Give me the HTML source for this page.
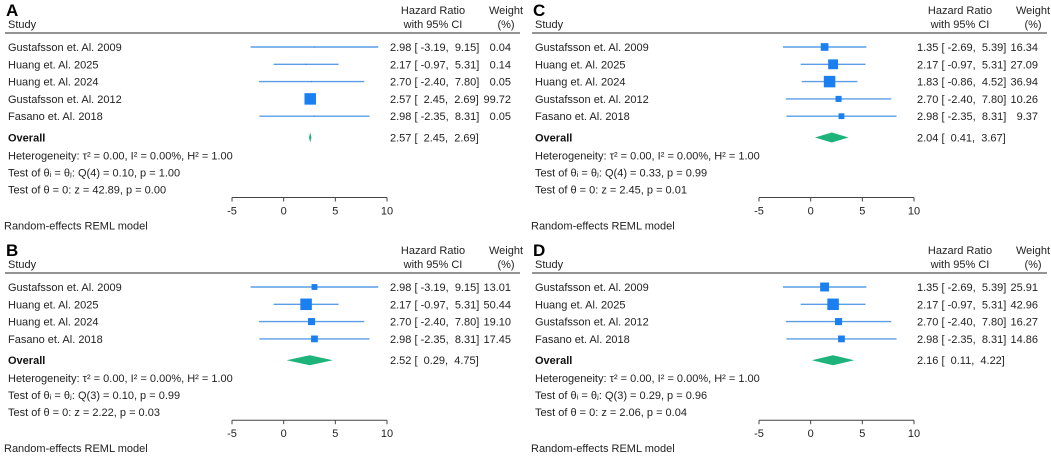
<!DOCTYPE html>
<html><head><meta charset="utf-8"><style>
body{margin:0;background:#fff;}
svg{display:block;font-family:"Liberation Sans",Arial,sans-serif;}
text{white-space:pre;}
</style></head><body>
<svg id="chart" width="1051" height="458" viewBox="0 0 1051 458"></svg>
<script>
// Panel A
const studiesA=["Gustafsson et. Al. 2009","Huang et. Al. 2025","Huang et. Al. 2024","Gustafsson et. Al. 2012","Fasano et. Al. 2018"];
const estA=[2.98,2.17,2.70,2.57,2.98];
const loA=[-3.19,-0.97,-2.40,2.45,-2.35];
const hiA=[9.15,5.31,7.80,2.69,8.31];
const wA=[0.04,0.14,0.05,99.72,0.05];
const overallA=[2.57,2.45,2.69];
const statsA=["Q(4) = 0.10, p = 1.00","z = 42.89, p = 0.00"];
// Panel B
const studiesB=["Gustafsson et. Al. 2009","Huang et. Al. 2025","Huang et. Al. 2024","Fasano et. Al. 2018"];
const estB=[2.98,2.17,2.70,2.98];
const loB=[-3.19,-0.97,-2.40,-2.35];
const hiB=[9.15,5.31,7.80,8.31];
const wB=[13.01,50.44,19.10,17.45];
const overallB=[2.52,0.29,4.75];
const statsB=["Q(3) = 0.10, p = 0.99","z = 2.22, p = 0.03"];
// Panel C
const studiesC=["Gustafsson et. Al. 2009","Huang et. Al. 2025","Huang et. Al. 2024","Gustafsson et. Al. 2012","Fasano et. Al. 2018"];
const estC=[1.35,2.17,1.83,2.70,2.98];
const loC=[-2.69,-0.97,-0.86,-2.40,-2.35];
const hiC=[5.39,5.31,4.52,7.80,8.31];
const wC=[16.34,27.09,36.94,10.26,9.37];
const overallC=[2.04,0.41,3.67];
const statsC=["Q(4) = 0.33, p = 0.99","z = 2.45, p = 0.01"];
// Panel D
const studiesD=["Gustafsson et. Al. 2009","Huang et. Al. 2025","Gustafsson et. Al. 2012","Fasano et. Al. 2018"];
const estD=[1.35,2.17,2.70,2.98];
const loD=[-2.69,-0.97,-2.40,-2.35];
const hiD=[5.39,5.31,7.80,8.31];
const wD=[25.91,42.96,16.27,14.86];
const overallD=[2.16,0.11,4.22];
const statsD=["Q(3) = 0.29, p = 0.96","z = 2.06, p = 0.04"];
const ticks=[-5,0,5,10];

const NS="http://www.w3.org/2000/svg";
const svg=document.getElementById('chart');
function mk(tag,attrs,parent,text){const e=document.createElementNS(NS,tag);for(const k in attrs)e.setAttribute(k,attrs[k]);if(text!==undefined)e.textContent=text;parent.appendChild(e);return e;}
function f2(v){return v.toFixed(2);}
function pad(s){return (s.length<5?"  ":" ")+s;}
function ciText(e,l,h){return f2(e)+" ["+pad(f2(l))+","+pad(f2(h))+"]";}

function panel(letter,ox,oy,studies,est,lo,hi,w,ov,stats){
  const g=mk('g',{transform:`translate(${ox},${oy})`},svg);
  
  
  const x=v=>232+(v+5)*(155/15);
  const t1=mk('text',{x:6,y:16,'font-size':17,'font-weight':'bold',fill:'#000'},g,letter);
  
  const t2=mk('text',{x:8,y:28,'font-size':11,fill:'#222'},g,"Study");
  
  const t3=mk('text',{x:433,y:14,'font-size':11,fill:'#222','text-anchor':'middle'},g,"Hazard Ratio");
  
  mk('text',{x:433,y:28,'font-size':11,fill:'#222','text-anchor':'middle'},g,"with 95% CI");
  const t4=mk('text',{x:506,y:14,'font-size':11,fill:'#222','text-anchor':'middle'},g,"Weight");
  
  mk('text',{x:506,y:28,'font-size':11,fill:'#222','text-anchor':'middle'},g,"(%)");
  mk('line',{x1:5,x2:520,y1:33,y2:33,stroke:'#555','stroke-width':1.2},g);
  const maxw=Math.max(...w);
  studies.forEach((s,i)=>{
    const y=47+i*17.3;
    const r=mk('g',{},g);
    
    mk('text',{x:8,y:y+4,'font-size':11,fill:'#222'},r,s);
    const ln=mk('line',{x1:x(lo[i]),x2:x(hi[i]),y1:y,y2:y,stroke:'#5a9de6','stroke-width':1.4},r);
    
    const sd=Math.max(1,11.5*Math.sqrt(w[i]/maxw));
    const sq=mk('rect',{x:x(est[i])-sd/2,y:y-sd/2,width:sd,height:sd,fill:'#1a7ff0'},r);
    
    mk('text',{x:390,y:y+4,'font-size':11,fill:'#222'},r,ciText(est[i],lo[i],hi[i]));
    mk('text',{x:511,y:y+4,'font-size':11,fill:'#222','text-anchor':'end'},r,f2(w[i]));
  });
  const n=studies.length;
  const yo=47+n*17.3+4;
  const ot=mk('text',{x:8,y:yo+4,'font-size':11,'font-weight':'bold',fill:'#111'},g,"Overall");
  
  const d=mk('polygon',{points:`${x(ov[1])},${yo} ${x(ov[0])},${yo-5} ${x(ov[2])},${yo} ${x(ov[0])},${yo+5}`,fill:'#1db37a'},g);
  
  mk('text',{x:390,y:yo+4,'font-size':11,fill:'#222'},g,ciText(ov[0],ov[1],ov[2]));
  const lines=["Heterogeneity: τ² = 0.00, I² = 0.00%, H² = 1.00","Test of θᵢ = θⱼ: "+stats[0],"Test of θ = 0: "+stats[1]];
  lines.forEach((l,i)=>{const t=mk('text',{x:8,y:yo+22+i*17,'font-size':11,fill:'#222'},g,l);
    });
  const ay=yo+60;
  const ax=mk('line',{x1:x(ticks[0]),x2:x(ticks[ticks.length-1]),y1:ay,y2:ay,stroke:'#444','stroke-width':1},g);
  
  ticks.forEach(tv=>{
    mk('line',{x1:x(tv),x2:x(tv),y1:ay,y2:ay+4,stroke:'#444'},g);
    const tl=mk('text',{x:x(tv),y:ay+17,'font-size':11,fill:'#222','text-anchor':'middle'},g,String(tv));
    
  });
  const rm=mk('text',{x:4,y:ay+32,'font-size':11,fill:'#222'},g,"Random-effects REML model");
  
}
panel("A",0,0,studiesA,estA,loA,hiA,wA,overallA,statsA);
panel("B",0,240,studiesB,estB,loB,hiB,wB,overallB,statsB);
panel("C",527,0,studiesC,estC,loC,hiC,wC,overallC,statsC);
panel("D",527,240,studiesD,estD,loD,hiD,wD,overallD,statsD);
</script>
</body></html>
